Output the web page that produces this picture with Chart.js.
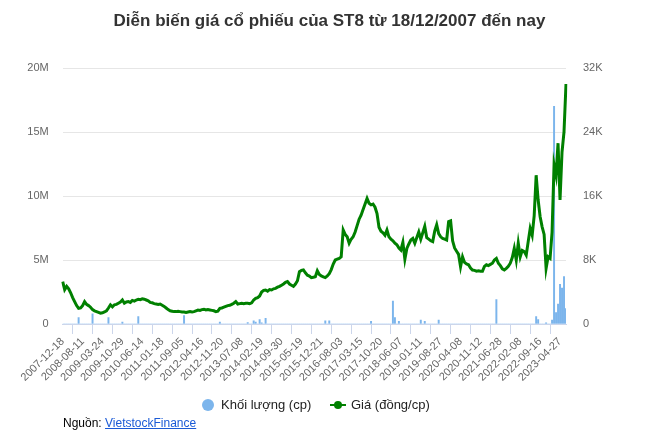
<!DOCTYPE html>
<html><head><meta charset="utf-8">
<script src="https://cdn.jsdelivr.net/npm/chart.js@4.4.0/dist/chart.umd.min.js"></script>
<style>
html,body{margin:0;padding:0;background:#fff;}
#wrap{position:relative;width:659px;height:436px;font-family:"Liberation Sans",Arial,sans-serif;overflow:hidden;}
#c{position:absolute;left:0;top:0;}
#title{position:absolute;left:0;top:11px;width:659px;text-align:center;font-weight:bold;font-size:17px;color:#333;white-space:nowrap;}
.lg{position:absolute;font-size:13px;font-weight:normal;color:#222;line-height:15px;white-space:nowrap;}
#dotv{position:absolute;left:202px;top:399px;width:12px;height:12px;border-radius:50%;background:#7cb5ec;}
#linep{position:absolute;left:330px;top:404px;width:16px;height:2px;background:#008000;}
#dotp{position:absolute;left:334px;top:401px;width:8px;height:8px;border-radius:50%;background:#008000;}
#src{position:absolute;left:63px;top:416px;font-size:12px;color:#000;white-space:nowrap;}
#src a{color:#1a5ad6;text-decoration:underline;}
</style></head>
<body>
<div id="wrap">
<canvas id="c" width="659" height="436"></canvas>
<div id="title">Diễn biến giá cổ phiếu của ST8 từ 18/12/2007 đến nay</div>
<div id="dotv"></div><div class="lg" style="left:221px;top:397px;">Khối lượng (cp)</div>
<div id="linep"></div><div id="dotp"></div><div class="lg" style="left:351px;top:397px;">Giá (đồng/cp)</div>
<div id="src">Nguồn: <a href="#">VietstockFinance</a></div>
</div>
<script>
const tickLabels = ["2007-12-18","2008-08-11","2009-03-24","2009-10-29","2010-06-14","2011-01-18","2011-09-05","2012-04-16","2012-11-20","2013-07-08","2014-02-19","2014-09-30","2015-05-19","2015-12-21","2016-08-03","2017-03-15","2017-10-20","2018-06-07","2019-01-11","2019-08-27","2020-04-08","2020-11-12","2021-06-28","2022-02-08","2022-09-16","2023-04-27"];

// Giá (đồng/cp)
const price = [
5300,4300,4700,4400,3900,3300,2800,2300,1950,2000,
2300,2800,2450,2300,2100,1800,1650,1550,1450,1350,
1400,1500,1650,2000,2400,2150,2400,2450,2600,2750,
3000,2600,2750,2800,2700,2950,2850,3000,3100,3050,
3150,3100,3000,2900,2700,2650,2550,2500,2450,2500,
2350,2200,2000,1800,1650,1600,1550,1550,1600,1550,
1500,1500,1450,1500,1550,1500,1550,1650,1750,1700,
1800,1850,1750,1800,1750,1700,1650,1550,1600,1950,
2000,2100,2200,2300,2350,2450,2600,2800,2500,2550,
2600,2550,2600,2600,2550,2650,3000,3200,3300,3500,
4000,4200,4250,4100,4300,4250,4400,4450,4600,4700,
4850,5000,5200,5300,5000,4850,4700,5000,5400,6550,
6700,6750,6400,6100,6000,5800,5850,5900,6650,6200,
6000,5900,5800,6000,6300,6800,7500,8000,8100,8200,
8400,11750,11200,10900,10100,10600,10900,11500,12300,13100,
13600,14300,15000,15700,15100,14900,15000,14600,13800,12100,
11600,11400,11100,11750,10900,10600,10400,10100,9900,9500,
9250,10200,8100,9450,10000,10500,10700,10100,10800,11500,
10600,11400,12200,10800,10600,10400,10300,11600,12400,11300,
10900,10700,10600,10500,12800,12900,10400,9500,9100,8700,
7150,8400,7700,7500,7400,7000,6750,6700,6600,6650,
6600,6600,7200,7400,7300,7450,7600,8000,8200,7600,
7300,6900,6750,6950,7200,7600,8300,9450,8000,10100,
8400,9200,9050,8600,10300,11950,11100,13500,18600,15500,
13400,12150,11200,6950,8400,8200,11500,19900,18600,22600,
15500,21500,24000,30000
];

// Khối lượng (triệu cp)
const volumeM = [
0,0,0,0,0,0,0,0,0.5,0,
0,0,0,0,0,0.8,0,0,0,0,
0,0,0,0.5,0,0,0,0,0,0,
0.15,0,0,0,0,0,0,0,0.57,0,
0,0,0,0,0,0,0,0,0,0,
0,0,0,0,0,0,0,0,0,0,
0,0.65,0,0,0,0,0,0,0,0,
0,0,0,0,0,0,0,0,0,0.15,
0,0,0,0,0,0,0,0,0,0,
0,0,0,0.12,0,0,0.25,0.15,0,0.35,
0.1,0,0.45,0,0,0,0,0,0,0,
0,0,0,0,0,0,0,0,0,0,
0,0,0,0,0,0,0,0,0,0,
0,0,0.25,0,0.25,0,0,0,0,0,
0,0,0,0,0,0,0,0,0,0,
0,0,0,0,0,0.2,0,0,0,0,
0,0,0,0,0,0,1.8,0.5,0,0.2,
0,0,0,0,0,0,0,0,0,0,
0.3,0,0.2,0,0,0,0,0,0,0.3,
0,0,0,0,0,0,0,0,0,0,
0,0,0,0,0,0,0,0,0,0,
0,0,0,0,0,0,0,0,1.9,0,
0,0,0,0,0,0,0,0,0,0,
0,0,0,0,0,0,0,0,0.57,0.35,
0,0,0,0.1,0,0,0.3,17.0,0.9,1.55,
3.1,2.8,3.7,1.2
];

const TICK_EVERY = 10;
const categories = price.map((_, i) => i % TICK_EVERY === 0 ? (tickLabels[i / TICK_EVERY] || '') : '');
const volume = volumeM.map(v => v * 1e6);

Chart.defaults.font.family = "'Liberation Sans', Arial, sans-serif";
new Chart(document.getElementById('c'), {
  type: 'line',
  data: {
    labels: categories,
    datasets: [
      { type: 'line', label: 'Giá (đồng/cp)', data: price, yAxisID: 'yp', borderColor: '#008000', backgroundColor: '#008000', borderWidth: 3, pointRadius: 0, tension: 0, order: 1 },
      { type: 'bar', label: 'Khối lượng (cp)', data: volume, yAxisID: 'yv', backgroundColor: '#7cb5ec', barThickness: 1.3, order: 2 }
    ]
  },
  options: {
    responsive: false, animation: false,
    layout: { padding: { top: 68, left: 0, right: 0, bottom: 0 } },
    plugins: { legend: { display: false }, title: { display: false }, tooltip: { enabled: false } },
    scales: {
      x: {
        type: 'category', offset: false,
        grid: { display: true, drawOnChartArea: false, drawTicks: true, tickLength: 10, color: '#ccd6eb' },
        border: { color: '#ccd6eb' },
        ticks: { autoSkip: false, minRotation: 45, maxRotation: 45, padding: 1, color: '#666', font: { size: 11 } },
        afterBuildTicks: s => { s.ticks = s.ticks.filter(t => t.value % TICK_EVERY === 0); },
        afterFit: s => { s.height = 112; }
      },
      yv: {
        position: 'left', min: 0, max: 20e6,
        grid: { color: '#e6e6e6', drawTicks: false },
        border: { display: false },
        ticks: { stepSize: 5e6, padding: 14, color: '#666', font: { size: 11 }, callback: v => v === 0 ? '0' : (v / 1e6) + 'M' },
        afterFit: s => { s.width = 62.7; }
      },
      yp: {
        position: 'right', min: 0, max: 32000,
        grid: { display: false, drawTicks: false },
        border: { display: false },
        ticks: { stepSize: 8000, padding: 17, color: '#666', font: { size: 11 }, callback: v => v === 0 ? '0' : (v / 1000) + 'K' },
        afterFit: s => { s.width = 93; }
      }
    }
  }
});
</script>
</body></html>
